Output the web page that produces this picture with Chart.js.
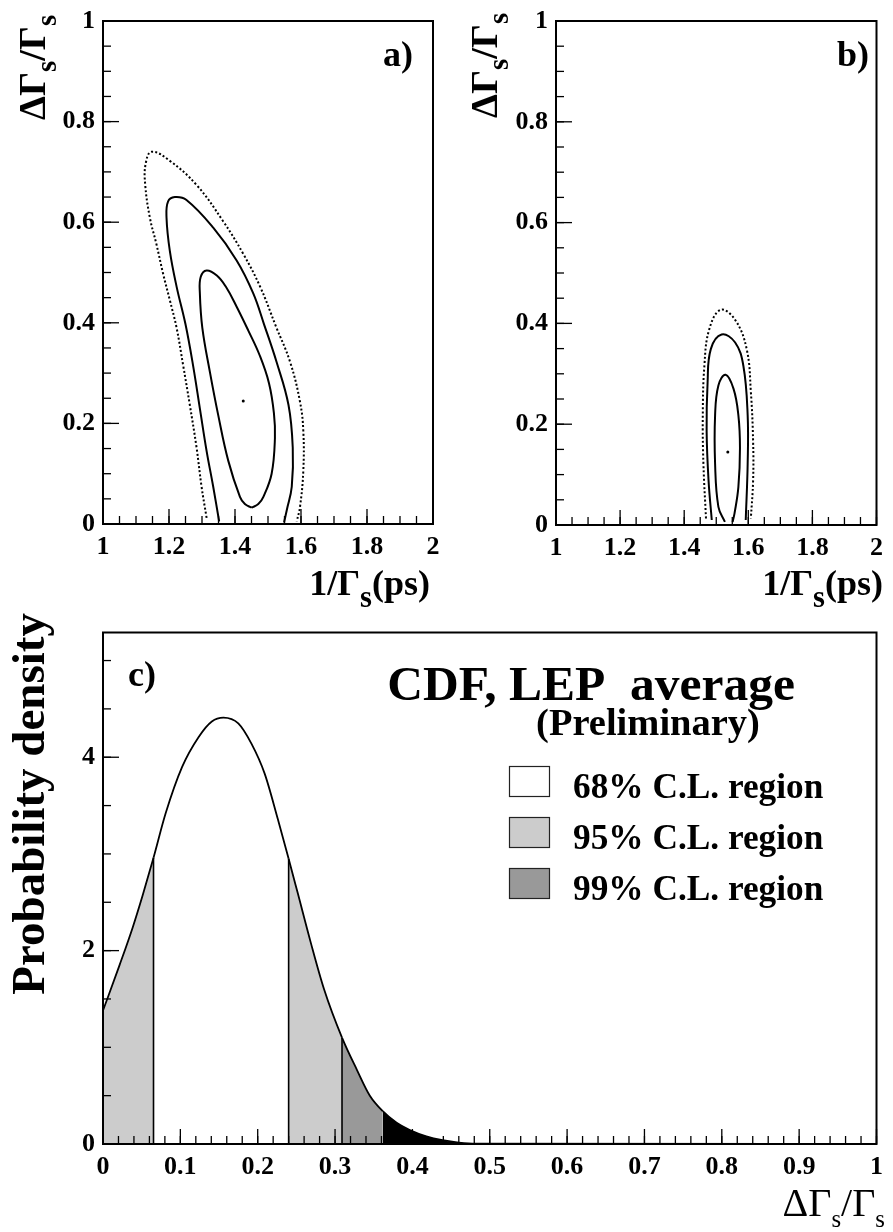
<!DOCTYPE html>
<html><head><meta charset="utf-8">
<script src="https://cdn.jsdelivr.net/npm/chart.js@4.4.0/dist/chart.umd.min.js"></script>
<style>
html,body{margin:0;padding:0;background:#fff;}
#wrap{position:relative;width:893px;height:1232px;overflow:hidden;}
canvas{position:absolute;left:0;top:0;}
</style></head><body>
<div id="wrap">
<canvas id="ca" width="893" height="1232"></canvas>
<canvas id="cb" width="893" height="1232"></canvas>
<canvas id="cc" width="893" height="1232"></canvas>
</div>
<script>
// ---------------- DATA ----------------
const contourXTicks = [1, 1.2, 1.4, 1.6, 1.8, 2];
const contourYTicks = [0, 0.2, 0.4, 0.6, 0.8, 1];
const pdfXTicks = [0, 0.1, 0.2, 0.3, 0.4, 0.5, 0.6, 0.7, 0.8, 0.9, 1];
const pdfYTicks = [0, 2, 4];

// panel a contours [1/Gamma_s, dGamma/Gamma]
const aOuter = [[1.314,0.012],[1.2987,0.074],[1.2835,0.152],[1.263,0.237],[1.243,0.315],[1.223,0.39],[1.2025,0.445],[1.182,0.498],[1.162,0.556],[1.142,0.609],[1.128,0.674],[1.129,0.715],[1.147,0.740],[1.2025,0.722],[1.2835,0.674],[1.364,0.602],[1.425,0.537],[1.476,0.472],[1.524,0.393],[1.567,0.322],[1.597,0.243],[1.607,0.185],[1.607,0.106],[1.597,0.034],[1.587,0.005]];
const aMiddle = [[1.352,0.005],[1.334,0.074],[1.314,0.145],[1.2935,0.230],[1.273,0.315],[1.250,0.397],[1.223,0.472],[1.2025,0.543],[1.1925,0.609],[1.197,0.641],[1.2177,0.650],[1.253,0.644],[1.334,0.589],[1.405,0.524],[1.455,0.459],[1.488,0.397],[1.526,0.322],[1.562,0.237],[1.575,0.152],[1.572,0.074],[1.557,0.028],[1.5486,0.003]];
const aInner = [[1.4505,0.0325],[1.430,0.0397],[1.415,0.054],[1.3795,0.126],[1.349,0.217],[1.324,0.302],[1.301,0.390],[1.2935,0.459],[1.296,0.491],[1.314,0.504],[1.345,0.494],[1.372,0.472],[1.405,0.432],[1.440,0.385],[1.475,0.335],[1.503,0.280],[1.518,0.220],[1.521,0.171],[1.511,0.100],[1.486,0.054],[1.4706,0.0397],[1.4505,0.0325]];
const aBest = [[1.425,0.2446]];

// panel b contours
const bOuter = [[1.468,0.013],[1.46,0.121],[1.458,0.218],[1.463,0.316],[1.478,0.388],[1.5137,0.427],[1.559,0.407],[1.595,0.349],[1.608,0.264],[1.615,0.166],[1.615,0.088],[1.608,0.013]];
const bMiddle = [[1.486,0.01],[1.476,0.088],[1.470,0.186],[1.473,0.283],[1.483,0.349],[1.5167,0.378],[1.559,0.362],[1.5846,0.316],[1.598,0.218],[1.598,0.121],[1.592,0.01]];
const bInner = [[1.527,0.006],[1.5067,0.036],[1.4964,0.121],[1.4964,0.218],[1.5067,0.277],[1.529,0.298],[1.554,0.270],[1.569,0.218],[1.574,0.153],[1.569,0.075],[1.557,0.023],[1.551,0.006]];
const bBest = [[1.536,0.145]];

// panel c probability density
const pdfX = [0, 0.0214, 0.0384, 0.0512, 0.0653, 0.081, 0.1023, 0.1237, 0.1407, 0.1557, 0.1749, 0.1919, 0.209, 0.226, 0.240, 0.2516, 0.2687, 0.2858, 0.309, 0.3284, 0.345, 0.3617, 0.3796, 0.3966, 0.418, 0.439, 0.46, 0.482, 1.0];
const pdfY = [1.38, 1.85, 2.24, 2.57, 2.96, 3.42, 3.90, 4.21, 4.37, 4.41, 4.35, 4.14, 3.83, 3.36, 2.95, 2.60, 2.08, 1.60, 1.10, 0.765, 0.50, 0.34, 0.22, 0.145, 0.08, 0.04, 0.015, 0.003, 0];
// region boundaries (68% interval, 95% upper, 99% upper)
const lo68 = 0.0653, hi68 = 0.240, hi95 = 0.309, hi99 = 0.3617;
const legendLabels = ['68% C.L. region', '95% C.L. region', '99% C.L. region'];
const legendColors = ['#ffffff', '#cccccc', '#999999'];
const tailColor = '#000000';

// ---------------- HELPERS ----------------
const FAM = "'Liberation Serif','Times New Roman',serif";
const tickFont = {family: FAM, size: 26, weight: 'bold', lineHeight: 1};
const pts = arr => arr.map(p => ({x: p[0], y: p[1]}));

function drawRich(ctx, segs, x, y, size, weight, align, subScale, subDrop) {
  let w = 0;
  const parts = segs.map(s => {
    const fs = s.sub ? size * subScale : size;
    ctx.font = `${weight} ${fs}px ${FAM}`;
    const m = ctx.measureText(s.t).width;
    w += m;
    return {t: s.t, fs, m, dy: s.sub ? size * subDrop : 0};
  });
  let cx = align === 'right' ? x - w : align === 'center' ? x - w / 2 : x;
  ctx.textAlign = 'left'; ctx.textBaseline = 'alphabetic'; ctx.fillStyle = '#000';
  parts.forEach(p => { ctx.font = `${weight} ${p.fs}px ${FAM}`; ctx.fillText(p.t, cx, y + p.dy); cx += p.m; });
}

function range(a, b, step) { const out = []; const n = Math.round((b - a) / step); for (let i = 0; i <= n; i++) out.push(a + i * step); return out; }

const axisDeco = {
  id: 'axisDeco',
  afterDatasetsDraw(chart, args, o) {
    const {ctx, chartArea: a, scales: {x, y}} = chart;
    ctx.save();
    ctx.strokeStyle = '#000'; ctx.lineWidth = 1.3;
    const line = (x1, y1, x2, y2) => { ctx.beginPath(); ctx.moveTo(x1, y1); ctx.lineTo(x2, y2); ctx.stroke(); };
    range(x.min, x.max, o.xMinor).forEach(v => { const p = x.getPixelForValue(v); line(p, a.bottom, p, a.bottom - 8); });
    o.xMajor.forEach(v => { const p = x.getPixelForValue(v); line(p, a.bottom, p, a.bottom - 15); });
    range(y.min, o.yTop, o.yMinor).forEach(v => { const p = y.getPixelForValue(v); line(a.left, p, a.left + 8, p); });
    o.yMajor.forEach(v => { const p = y.getPixelForValue(v); line(a.left, p, a.left + 16, p); });
    ctx.lineWidth = 2;
    ctx.strokeRect(a.left, a.top, a.right - a.left, a.bottom - a.top);
    ctx.restore();
    if (o.texts) o.texts(ctx, a);
  }
};

function scalesFor(xmin, xmax, xt, ymin, ymax, yt) {
  const common = {grid: {display: false, drawTicks: false}, border: {display: false}};
  return {
    x: Object.assign({type: 'linear', min: xmin, max: xmax,
      afterBuildTicks: s => { s.ticks = xt.map(v => ({value: v})); },
      afterFit: s => { s.height = 40; },
      ticks: {padding: 10, font: tickFont, color: '#000', maxRotation: 0, minRotation: 0, autoSkip: false, callback: v => String(v)}}, common),
    y: Object.assign({type: 'linear', min: ymin, max: ymax,
      afterBuildTicks: s => { s.ticks = yt.map(v => ({value: v})); },
      afterFit: s => { s.width = 100; },
      ticks: {padding: 8, font: tickFont, color: '#000', autoSkip: false, callback: v => String(v)}}, common)
  };
}

function box(l, t, r, b) { return {left: l - 100, right: 893 - r, top: t, bottom: 1232 - b - 40}; }

const baseOpts = {responsive: false, animation: false, devicePixelRatio: 1, events: [],
  plugins: {legend: {display: false}, tooltip: {enabled: false}}};

function contourChart(id, area, outer, middle, inner, best, texts) {
  return new Chart(document.getElementById(id), {
    type: 'scatter',
    data: {datasets: [
      {data: pts(outer), showLine: true, borderColor: '#000', borderWidth: 2, borderDash: [2, 2.2], pointRadius: 0, tension: 0.4, fill: false},
      {data: pts(middle), showLine: true, borderColor: '#000', borderWidth: 2, pointRadius: 0, tension: 0.4, fill: false},
      {data: pts(inner), showLine: true, borderColor: '#000', borderWidth: 2, pointRadius: 0, tension: 0.4, fill: false},
      {data: pts(best), showLine: false, pointRadius: 1.5, pointBackgroundColor: '#000', pointBorderWidth: 0}
    ]},
    options: Object.assign({}, baseOpts, {
      layout: {padding: area},
      scales: scalesFor(1, 2, contourXTicks, 0, 1, contourYTicks),
      plugins: Object.assign({}, baseOpts.plugins, {axisDeco: {xMinor: 0.05, xMajor: contourXTicks, yMinor: 0.05, yMajor: contourYTicks, yTop: 1, texts}})
    }),
    plugins: [axisDeco]
  });
}

const dGamma = [{t: 'ΔΓ'}, {t: 's', sub: true}, {t: '/Γ'}, {t: 's', sub: true}];
const invGamma = [{t: '1/Γ'}, {t: 's', sub: true}, {t: '(ps)'}];

function rotText(ctx, segs, px, py, size, weight, align, sc, dr) {
  ctx.save(); ctx.translate(px, py); ctx.rotate(-Math.PI / 2);
  drawRich(ctx, segs, 0, 0, size, weight, align, sc, dr);
  ctx.restore();
}

contourChart('ca', box(103, 13, 433, 524), aOuter, aMiddle, aInner, aBest, (ctx) => {
  rotText(ctx, dGamma, 45, 15, 38, 'bold', 'right', 0.75, 0.3);
  drawRich(ctx, invGamma, 430, 595, 36, 'bold', 'right', 0.85, 0.33);
  drawRich(ctx, [{t: 'a)'}], 383, 66, 36, 'bold', 'left', 1, 0);
});
contourChart('cb', box(556, 13, 885, 525), bOuter, bMiddle, bInner, bBest, (ctx) => {
  rotText(ctx, dGamma, 497, 13, 38, 'bold', 'right', 0.75, 0.3);
  drawRich(ctx, invGamma, 883, 595, 36, 'bold', 'right', 0.85, 0.33);
  drawRich(ctx, [{t: 'b)'}], 837, 66, 36, 'bold', 'left', 1, 0);
});

// panel c
const pdfPts = pdfX.map((x, i) => ({x, y: pdfY[i]}));
const vline = xv => { const i = pdfX.indexOf(xv); return [{x: xv, y: 0}, {x: xv, y: pdfY[i]}]; };
const regionColor = xv => xv < lo68 - 1e-9 ? legendColors[1] : xv < hi68 - 1e-9 ? legendColors[0] : xv < hi95 - 1e-9 ? legendColors[1] : xv < hi99 - 1e-9 ? legendColors[2] : tailColor;
const lineDs = (data, w) => ({data, showLine: true, borderWidth: w, borderColor: '#000', pointRadius: 0, fill: false, tension: 0, order: 1});

new Chart(document.getElementById('cc'), {
  type: 'scatter',
  data: {datasets: [
    lineDs(vline(lo68), 1.6),
    lineDs(vline(hi68), 1.6),
    lineDs(vline(hi95), 1.6),
    {data: pdfPts, showLine: true, borderWidth: 1.8, borderColor: '#000', backgroundColor: '#ffffff', pointRadius: 0,
     fill: 'origin', cubicInterpolationMode: 'monotone', order: 2,
     segment: {backgroundColor: c => regionColor(c.p0.parsed.x)}}
  ]},
  options: Object.assign({}, baseOpts, {
    layout: {padding: box(103, 632.5, 885, 1144)},
    scales: scalesFor(0, 1, pdfXTicks, 0, 5.29, pdfYTicks),
    plugins: Object.assign({}, baseOpts.plugins, {axisDeco: {xMinor: 0.02, xMajor: pdfXTicks, yMinor: 0.5, yMajor: pdfYTicks, yTop: 5, texts: (ctx) => {
      rotText(ctx, [{t: 'Probability density'}], 44, 613, 47, 'bold', 'right', 1, 0);
      drawRich(ctx, dGamma, 885, 1216, 40, 'normal', 'right', 0.62, 0.28);
      drawRich(ctx, [{t: 'c)'}], 128, 686, 36, 'bold', 'left', 1, 0);
      drawRich(ctx, [{t: 'CDF, LEP  average'}], 795, 700, 49.5, 'bold', 'right', 1, 0);
      drawRich(ctx, [{t: '(Preliminary)'}], 648, 735, 38.5, 'bold', 'center', 1, 0);
      const by = [766, 817, 868];
      legendLabels.forEach((lab, i) => {
        ctx.save();
        ctx.fillStyle = legendColors[i]; ctx.fillRect(509, by[i], 40, 30);
        ctx.strokeStyle = '#222'; ctx.lineWidth = 1.2; ctx.strokeRect(509.5, by[i] + 0.5, 40, 30);
        ctx.restore();
        drawRich(ctx, [{t: lab}], 573, by[i] + 32, 35.3, 'bold', 'left', 1, 0);
      });
    }}})
  }),
  plugins: [axisDeco]
});
</script>
</body></html>
